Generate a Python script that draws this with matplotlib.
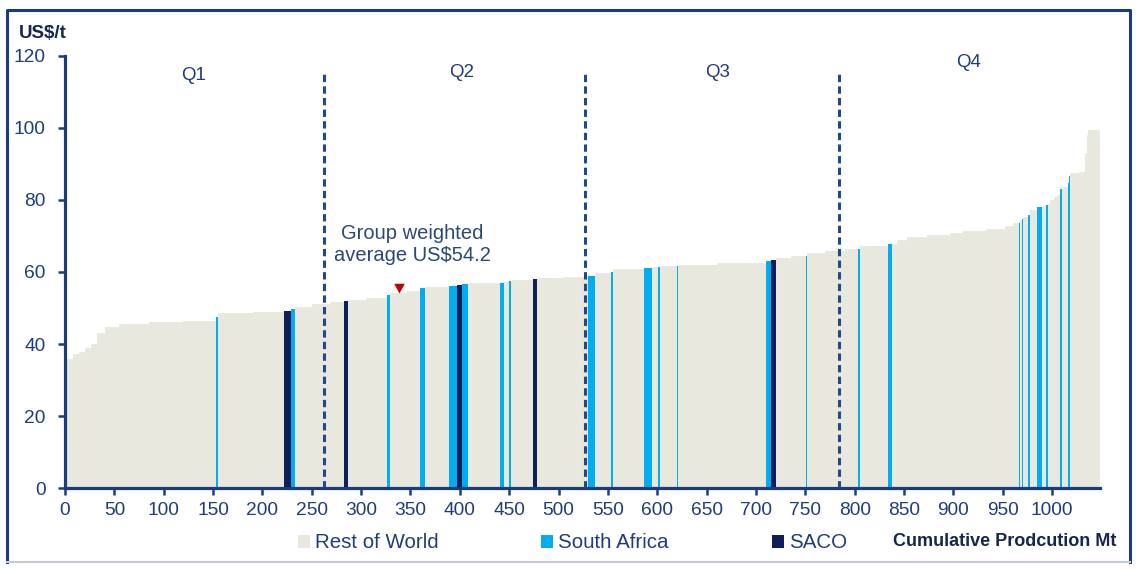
import matplotlib
matplotlib.use("Agg")
import numpy as np
import matplotlib.pyplot as plt
from matplotlib.patches import Patch
from matplotlib.lines import Line2D

plt.rcParams['font.family'] = ['Liberation Sans', 'DejaVu Sans']

# ---- cost curve data: one entry per operation, sorted by cash cost ----
production_mt = [
    8, 6, 6, 6, 6, 9, 14, 30, 35, 33,
    2, 35, 32, 7, 4, 17, 18, 15, 4, 18,
    21, 3.5, 15.5, 15, 5, 24, 8.5, 4.5, 6.5, 32.5,
    3.5, 5, 2, 23, 3.5, 27, 25, 6.5, 16.5, 2,
    31.5, 8, 6.5, 1.5, 17, 1, 39.5, 50, 5, 5.5,
    14.5, 15.5, 1.5, 18, 20, 13.5, 1.5, 28.5, 4.5, 5,
    10, 20, 24, 13, 23, 19, 8, 6, 1.5, 2,
    1.5, 4.5, 2, 7.5, 5, 4, 1.5, 2.5, 4, 3,
    3, 1.5, 7, 1, 1, 8.5, 6.5, 1.5, 1.5, 12,
]
cash_cost_usd_t = [
    36.0, 37.2, 37.9, 38.8, 39.9, 43.0, 44.8, 45.5, 46.0, 46.5,
    47.4, 48.5, 49.0, 49.3, 49.7, 50.4, 51.0, 51.6, 51.9, 52.1,
    52.7, 53.6, 54.2, 54.8, 55.6, 55.9, 56.1, 56.4, 56.6, 56.9,
    57.0, 57.2, 57.5, 57.7, 58.0, 58.3, 58.6, 59.0, 59.6, 59.9,
    60.7, 61.1, 61.5, 61.5, 61.6, 61.6, 61.9, 62.4, 63.0, 63.3,
    63.8, 64.4, 64.5, 65.2, 65.8, 66.4, 66.4, 67.2, 67.7, 67.9,
    68.9, 69.6, 70.2, 70.9, 71.4, 71.8, 72.7, 73.5, 73.5, 74.4,
    74.6, 75.3, 75.8, 77.2, 77.9, 78.2, 78.5, 79.0, 80.0, 80.7,
    81.3, 83.0, 83.6, 84.6, 86.6, 87.4, 87.8, 93.0, 98.0, 99.3,
]
R, S, C = 'Rest of World', 'South Africa', 'SACO'
region = [
    R, R, R, R, R, R, R, R, R, R,
    S, R, R, C, S, R, R, R, C, R,
    R, S, R, R, S, R, S, C, S, R,
    S, R, S, R, C, R, R, S, R, S,
    R, S, R, S, R, S, R, R, S, C,
    R, R, S, R, R, R, S, R, S, R,
    R, R, R, R, R, R, R, R, S, R,
    S, R, S, R, S, R, S, R, R, R,
    R, S, R, S, S, R, R, R, R, R,
]

legend_order = [R, S, C]
quartile_bounds = [262, 527, 784]
quartile_labels = ['Q1', 'Q2', 'Q3', 'Q4']
quartile_label_x = [130, 402, 661, 915]
quartile_label_y = [114.6, 115.4, 115.4, 118.2]
group_weighted_avg = 54.2
group_avg_position_mt = 338.7

x_ticks = list(range(0, 1001, 50))
y_ticks = list(range(0, 121, 20))

# ---- styling ----
COLORS = {R: '#e9e8de', S: '#00adef', C: '#0c1f5c'}
AXIS_BLUE = '#1b3c7c'
TEXT_BLUE = '#1f3d7a'
DARK_NAVY = '#17264f'

W, H = 1136, 570
fig = plt.figure(figsize=(W / 100, H / 100), dpi=100)
ax = fig.add_axes([65 / W, 1 - 488.3 / H, (1100 - 65) / W, (488.3 - 55.7) / H])

widths = np.array(production_mt, dtype=float)
lefts = np.concatenate([[0], np.cumsum(widths)[:-1]])
costs = np.array(cash_cost_usd_t)
reg = np.array(region)

for name in legend_order:
    m = reg == name
    if name == R:
        ax.bar(lefts[m], costs[m], width=widths[m], align='edge',
               color=COLORS[name], edgecolor=COLORS[name], linewidth=0.6,
               zorder=1, label=name)
    else:
        ax.bar(lefts[m], costs[m], width=widths[m], align='edge',
               color=COLORS[name], linewidth=0, zorder=2, label=name)

# quartile dividers
for xb in quartile_bounds:
    ax.plot([xb, xb], [0, 115.5], color='#1f4a8a', lw=2.2,
            dashes=(2.4, 1.4), zorder=3, solid_capstyle='butt',
            dash_capstyle='butt')
for lab, qx, qy in zip(quartile_labels, quartile_label_x, quartile_label_y):
    ax.text(qx, qy, lab, ha='center', va='center', fontsize=13.5,
            color=TEXT_BLUE)

# group weighted average marker (tip at the value)
tri = [(-0.55, 1.0), (0.55, 1.0), (0.0, 0.0), (-0.55, 1.0)]
ax.plot([group_avg_position_mt], [group_weighted_avg], marker=tri,
        markersize=14, color='#c00000', markeredgewidth=0, zorder=4)
ax.text(351.5, 67.5,
        f'Group weighted\naverage US${group_weighted_avg}',
        ha='center', va='center', fontsize=14.5, color='#2a4878',
        linespacing=1.2)

ax.set_xlim(0, 1048.5)
ax.set_ylim(0, 120)
ax.set_xticks(x_ticks)
ax.set_yticks(y_ticks)
for side in ('top', 'right'):
    ax.spines[side].set_visible(False)
for side in ('left', 'bottom'):
    ax.spines[side].set_color(AXIS_BLUE)
    ax.spines[side].set_linewidth(2.3)
ax.tick_params(axis='both', direction='out', length=5, width=1.8,
               color=AXIS_BLUE, labelcolor=TEXT_BLUE, labelsize=13.8)
ax.tick_params(axis='y', pad=9)
ax.tick_params(axis='x', pad=5)
ax.set_facecolor('none')

fig.text(19 / W, 1 - 33 / H, 'US$/t', fontsize=13.5, fontweight='bold',
         color=DARK_NAVY, ha='left', va='center')
fig.text(893 / W, 1 - 541 / H, 'Cumulative Prodcution Mt', fontsize=13,
         fontweight='bold', color=DARK_NAVY, ha='left', va='center')

# legend entries, one per region
legend_x = [298, 541, 772]
for name, lx in zip(legend_order, legend_x):
    fig.legend(handles=[Patch(facecolor=COLORS[name], edgecolor='none', label=name)],
               loc='center left', bbox_to_anchor=(lx / W, 1 - 543 / H),
               frameon=False, fontsize=14.8, handlelength=0.6,
               handleheight=0.6, handletextpad=0.25, borderpad=0,
               borderaxespad=0, labelcolor=TEXT_BLUE)

# outer frame
fx0, fx1, fy0, fy1 = 7 / W, 1130 / W, 1 - 562 / H, 1 - 10 / H
fig.add_artist(Line2D([fx0, fx0, fx1, fx1], [fy0, fy1, fy1, fy0],
                      transform=fig.transFigure, color=AXIS_BLUE, lw=2.2))
fig.add_artist(Line2D([fx0, fx1], [fy0, fy0], transform=fig.transFigure,
                      color='#c5cbd6', lw=1.5))

fig.savefig('out.png', dpi=100)
